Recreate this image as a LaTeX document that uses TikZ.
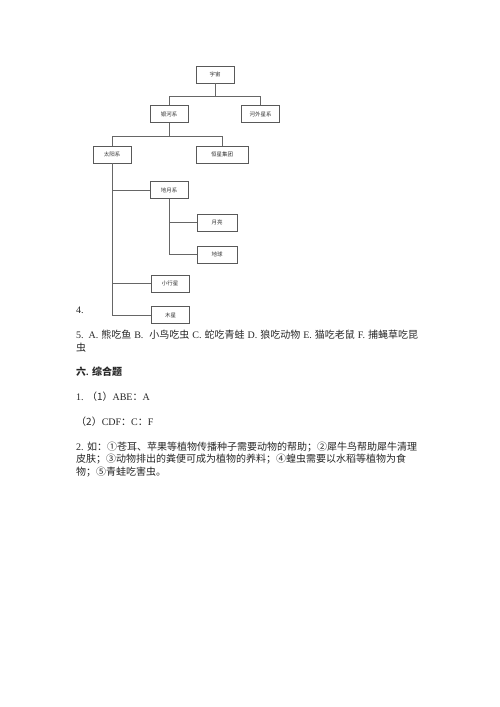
\documentclass[tikz,border=0pt]{standalone}
\usepackage{fontspec}
\setmainfont{Liberation Serif}
\newfontfamily\cjk{Noto Sans CJK SC}
\usetikzlibrary{positioning}
\begin{document}
\begin{tikzpicture}[x=1pt,y=-1pt,font=\cjk,
	hop/.style={draw=black!65,line width=0.6pt,minimum width=38pt,minimum height=17pt,inner sep=1pt,font=\cjk\fontsize{5.5}{6}\selectfont,text=black!80},
	noi/.style={draw=black!60,line width=0.6pt},
	dong/.style={anchor=west,inner sep=0pt,font=\rmfamily\fontsize{10}{12}\selectfont,text=black!85}]
	\useasboundingbox (0,0) rectangle (500,707);
	% Vẽ sơ đồ
	\node[hop] (yuzhou) at (215,74.5) {宇宙};
	\node[hop] (yinhe) at (169,114) {银河系};
	\node[hop] (hewai) at (260.5,114) {河外星系};
	\node[hop] (taiyang) at (112,154.5) {太阳系};
	\node[hop,minimum width=52pt] (hengxing) at (222,154.5) {恒星集团};
	\node[hop] (diyue) at (169,190) {地月系};
	\node[hop,minimum width=40pt] (yueliang) at (217,222.5) {月亮};
	\node[hop,minimum width=40pt] (diqiu) at (217,254.5) {地球};
	\node[hop] (xiaoxing) at (170,283.5) {小行星};
	\node[hop] (muxing) at (170.5,315) {木星};
	%Vẽ đường nối
	\draw[noi] (yuzhou.south) -- ++(0,13) -| (yinhe.north);
	\draw[noi] (yuzhou.south) -- ++(0,13) -| (hewai.north);
	\draw[noi] (yinhe.south) -- ++(0,13.5) -| (taiyang.north);
	\draw[noi] (yinhe.south) -- ++(0,13.5) -| (hengxing.north);
	\draw[noi] (taiyang.south) |- (muxing.west);
	\draw[noi] (taiyang.south |- diyue.west) -- (diyue.west);
	\draw[noi] (taiyang.south |- xiaoxing.west) -- (xiaoxing.west);
	\draw[noi] (diyue.south) |- (diqiu.west);
	\draw[noi] (diyue.south |- yueliang.west) -- (yueliang.west);
	% Các dòng chữ
	\node[dong] (so4) at (76,310) {4.};
	\node[dong] (cau5a) at (76,335) {\makebox[342pt][s]{5. A. {\cjk 熊吃鱼} B.\ \ {\cjk 小鸟吃虫} C. {\cjk 蛇吃青蛙} D. {\cjk 狼吃动物} E. {\cjk 猫吃老鼠} F. {\cjk 捕蝇草吃昆}}};
	\node[dong] (cau5b) at (76,348) {\cjk 虫};
	\node[dong,font=\bfseries\fontsize{10}{12}\selectfont] (muc6) at (76,372) {{\cjk 六}. {\cjk 综合题}};
	\node[dong] (cau1a) at (76,397) {1. {\cjk （1）}ABE{\cjk ：}A};
	\node[dong] (cau1b) at (76,422) {{\cjk （2）}CDF{\cjk ：}C{\cjk ：}F};
	\node[dong] (cau2a) at (76,447) {2. {\cjk 如：①苍耳、苹果等植物传播种子需要动物的帮助；②犀牛鸟帮助犀牛清理}};
	\node[dong] (cau2b) at (76,459.5) {\cjk 皮肤；③动物排出的粪便可成为植物的养料；④蝗虫需要以水稻等植物为食};
	\node[dong] (cau2c) at (76,472) {\cjk 物；⑤青蛙吃害虫。};
\end{tikzpicture}
\end{document}
